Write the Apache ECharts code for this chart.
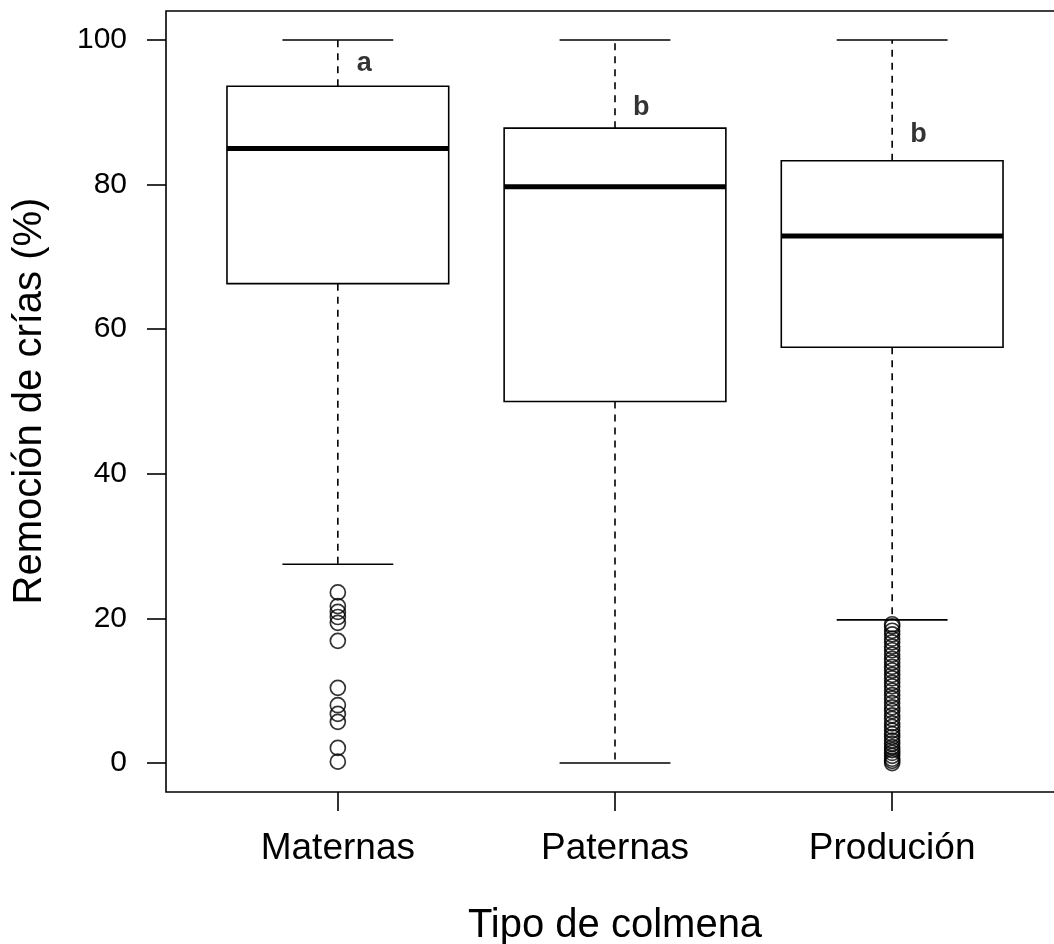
<!DOCTYPE html>
<html>
<head>
<meta charset="utf-8">
<script src="https://cdn.jsdelivr.net/npm/echarts@6/dist/echarts.min.js"></script>
<style>
  html, body { margin: 0; padding: 0; background: #fff; }
  #chart { width: 1054px; height: 944px; }
</style>
</head>
<body>
<div id="chart"></div>
<script>
// categorias y estadisticos de cada caja: [min, Q1, mediana, Q3, max]
const categories = ['Maternas', 'Paternas', 'Produción']
const boxStats = [
  [27.5, 66.3, 85.0, 93.6, 100],
  [0, 50.0, 79.7, 87.8, 100],
  [19.8, 57.5, 72.9, 83.3, 100]
]
const yTicks = [0, 20, 40, 60, 80, 100]

// valores atipicos
const outMaternas = [23.6, 21.7, 20.9, 20.2, 19.4, 16.9, 10.4, 8.0, 6.8, 5.7, 2.1, 0.2]
const outProduccion = [0, 0.3, 0.6, 1.0, 1.4, 1.8, 2.2, 2.7, 3.1, 3.6, 4.0, 4.5, 5.0,
  5.5, 6.1, 6.6, 7.2, 7.7, 8.3, 8.9, 9.4, 10.0, 10.6, 11.1, 11.7, 12.2, 12.8, 13.3,
  13.9, 14.4, 15.0, 15.6, 16.1, 16.7, 17.2, 17.8, 18.3, 18.9, 19.2]

// letras de significancia
const letters = ['a', 'b', 'b']
const letterY = [96.7, 90.7, 86.9]

const chart = echarts.init(document.getElementById('chart'))

const boxData = boxStats.map((s, i) => [i + 1].concat(s))
const outData = outMaternas.map(v => [1, v]).concat(outProduccion.map(v => [3, v]))
const letterData = letters.map((l, i) => ({ value: [i + 1.095, letterY[i]], name: l }))

const font = 'Liberation Sans, Arial, sans-serif'
const halfBox = 0.4
const halfCap = 0.2

function renderBox(params, api) {
  const x = api.value(0)
  const lo = api.value(1), q1 = api.value(2), med = api.value(3), q3 = api.value(4), hi = api.value(5)
  const p = (xx, yy) => api.coord([xx, yy])
  const line = (a, b, style) => ({
    type: 'line',
    shape: { x1: a[0], y1: a[1], x2: b[0], y2: b[1] },
    style: Object.assign({ stroke: '#000', lineWidth: 1.6 }, style)
  })
  const tl = p(x - halfBox, q3)
  const br = p(x + halfBox, q1)
  return {
    type: 'group',
    children: [
      line(p(x, q3), p(x, hi), { lineDash: [7, 6] }),
      line(p(x, q1), p(x, lo), { lineDash: [7, 6] }),
      line(p(x - halfCap, hi), p(x + halfCap, hi)),
      line(p(x - halfCap, lo), p(x + halfCap, lo)),
      {
        type: 'rect',
        shape: { x: tl[0], y: tl[1], width: br[0] - tl[0], height: br[1] - tl[1] },
        style: { fill: '#fff', stroke: '#000', lineWidth: 1.6 }
      },
      line(p(x - halfBox, med), p(x + halfBox, med), { lineWidth: 5 })
    ]
  }
}

chart.setOption({
  animation: false,
  grid: {
    left: 166, top: 11, width: 898, bottom: 152,
    outerBoundsMode: 'none', containLabel: false,
    show: true, borderColor: '#000', borderWidth: 1.6, backgroundColor: 'transparent'
  },
  xAxis: {
    type: 'value', min: 0.38, max: 3.62,
    splitLine: { show: false },
    axisLine: { show: false, onZero: false },
    axisTick: { show: true, length: 19, inside: false, customValues: [1, 2, 3],
      lineStyle: { color: '#000', width: 1.6 } },
    axisLabel: {
      customValues: [1, 2, 3], margin: 38,
      formatter: v => categories[Math.round(v) - 1],
      color: '#000', fontSize: 37, fontFamily: font
    }
  },
  yAxis: {
    type: 'value', min: -4, max: 104,
    splitLine: { show: false },
    axisLine: { show: false, onZero: false },
    axisTick: { show: true, length: 19, customValues: yTicks,
      lineStyle: { color: '#000', width: 1.6 } },
    axisLabel: {
      customValues: yTicks, margin: 39,
      color: '#000', fontSize: 30, fontFamily: font
    }
  },
  graphic: [
    {
      type: 'text', x: 30, y: 401, rotation: Math.PI / 2,
      style: { text: 'Remoción de crías (%)', fontSize: 40, fontFamily: font, fill: '#000',
        align: 'center', verticalAlign: 'middle' }
    },
    {
      type: 'text', x: 615, y: 926,
      style: { text: 'Tipo de colmena', fontSize: 40, fontFamily: font, fill: '#000',
        align: 'center', verticalAlign: 'middle' }
    }
  ],
  series: [
    {
      type: 'custom',
      renderItem: renderBox,
      data: boxData,
      encode: { x: 0, y: [1, 2, 3, 4, 5] },
      z: 2
    },
    {
      type: 'scatter',
      data: outData,
      symbol: 'circle',
      symbolSize: 15,
      itemStyle: { color: 'transparent', borderColor: '#000', borderWidth: 1.7 },
      z: 3
    },
    {
      type: 'scatter',
      data: letterData,
      symbolSize: 0,
      label: {
        show: true, position: 'inside', formatter: '{b}',
        color: '#000', fontSize: 27, fontWeight: 'bold', fontFamily: font
      },
      z: 4
    }
  ]
})
</script>
</body>
</html>
